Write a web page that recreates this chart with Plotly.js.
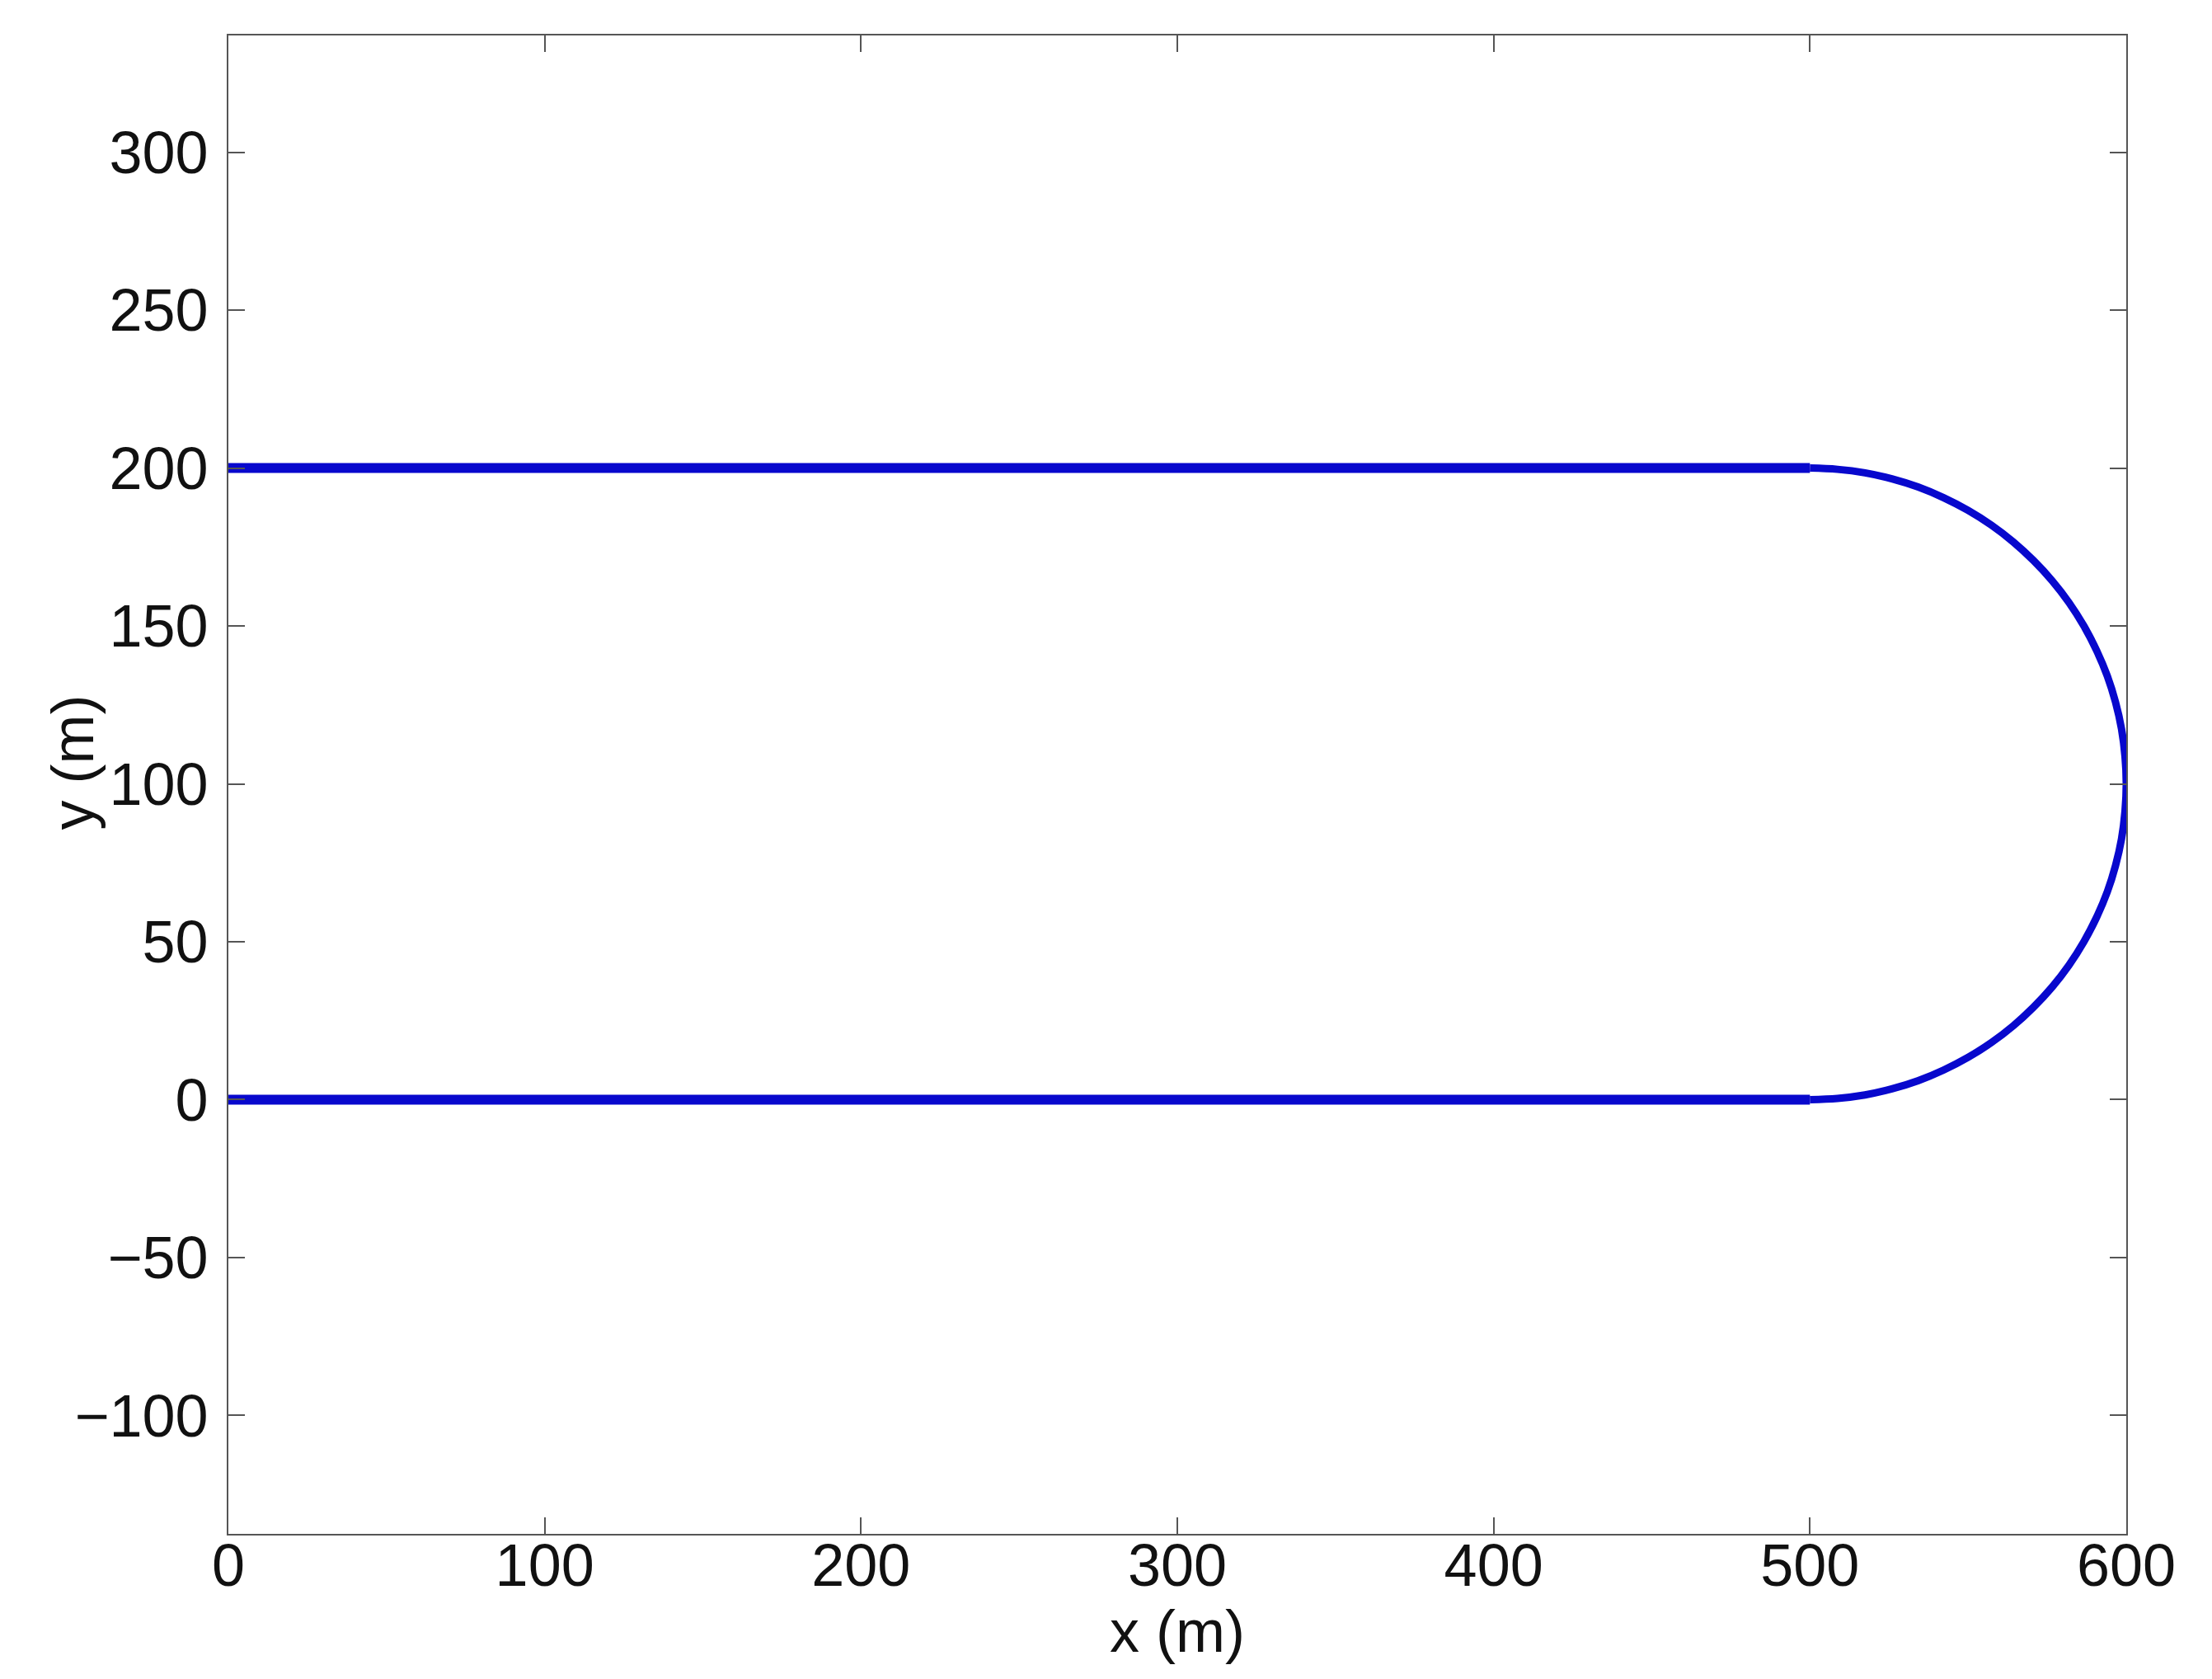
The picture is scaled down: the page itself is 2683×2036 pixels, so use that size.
<!DOCTYPE html>
<html>
<head>
<meta charset="utf-8">
<script src="https://cdn.plot.ly/plotly-3.0.1.min.js"></script>
<style>
  html, body { margin: 0; padding: 0; background: #ffffff; }
  #chart { width: 2683px; height: 2036px; }
</style>
</head>
<body>
<div id="chart"></div>
<script>
// Straight segments of the track (m)
const topX = [0, 500];
const topY = [200, 200];
const bottomX = [500, 0];
const bottomY = [0, 0];

// Turn-around arc (m), top to bottom
const arcX = [500.0, 508.7, 517.4, 525.9, 534.2, 542.3, 550.0, 557.4, 564.3, 570.7,
              576.6, 581.9, 586.6, 590.6, 594.0, 596.6, 598.5, 599.6, 600.0,
              599.6, 598.5, 596.6, 594.0, 590.6, 586.6, 581.9, 576.6, 570.7,
              564.3, 557.4, 550.0, 542.3, 534.2, 525.9, 517.4, 508.7, 500.0];
const arcY = [200.0, 199.6, 198.5, 196.6, 194.0, 190.6, 186.6, 181.9, 176.6, 170.7,
              164.3, 157.4, 150.0, 142.3, 134.2, 125.9, 117.4, 108.7, 100.0,
              91.3, 82.6, 74.1, 65.8, 57.7, 50.0, 42.6, 35.7, 29.3,
              23.4, 18.1, 13.4, 9.4, 6.0, 3.4, 1.5, 0.4, 0.0];

// Axes
const xTicks = [0, 100, 200, 300, 400, 500, 600];
const yTicks = [-100, -50, 0, 50, 100, 150, 200, 250, 300];
const xTitle = "x (m)";
const yTitle = "y (m)";

const blue = "rgb(8,8,205)";
const fontFam = "Liberation Sans, Arial, Helvetica, sans-serif";

const traces = [
  { x: topX, y: topY, type: "scatter", mode: "lines",
    line: { color: blue, width: 12 }, hoverinfo: "skip", showlegend: false },
  { x: arcX, y: arcY, type: "scatter", mode: "lines",
    line: { color: blue, width: 9, shape: "spline" }, hoverinfo: "skip", showlegend: false },
  { x: bottomX, y: bottomY, type: "scatter", mode: "lines",
    line: { color: blue, width: 12 }, hoverinfo: "skip", showlegend: false }
];

const axisCommon = {
  showgrid: false,
  zeroline: false,
  showline: true,
  linecolor: "#555555",
  linewidth: 2,
  mirror: "ticks",
  ticks: "inside",
  ticklen: 20,
  tickwidth: 2,
  tickcolor: "#555555",
  tickfont: { family: fontFam, size: 72, color: "#111111" },
  automargin: false
};

const layout = {
  width: 2683,
  height: 2036,
  margin: { l: 277, r: 104, t: 43, b: 176, pad: 0 },
  paper_bgcolor: "#ffffff",
  plot_bgcolor: "#ffffff",
  showlegend: false,
  font: { family: fontFam, color: "#111111" },
  xaxis: Object.assign({}, axisCommon, {
    range: [0, 600],
    tickmode: "array",
    tickvals: xTicks,
    ticktext: xTicks.map(String),
    ticklabelstandoff: -25,
    title: { text: xTitle, font: { family: fontFam, size: 72, color: "#111111" }, standoff: 0 }
  }),
  yaxis: Object.assign({}, axisCommon, {
    range: [-137.5, 337],
    tickmode: "array",
    tickvals: yTicks,
    ticklabelstandoff: 8,
    title: { text: "" }
  }),
  annotations: [
    { text: yTitle, textangle: -90, xref: "paper", yref: "paper",
      x: -0.082, y: 0.515, xanchor: "center", yanchor: "middle", showarrow: false,
      font: { family: fontFam, size: 72, color: "#111111" } }
  ]
};

Plotly.newPlot("chart", traces, layout, { displayModeBar: false, staticPlot: true });
</script>
</body>
</html>
